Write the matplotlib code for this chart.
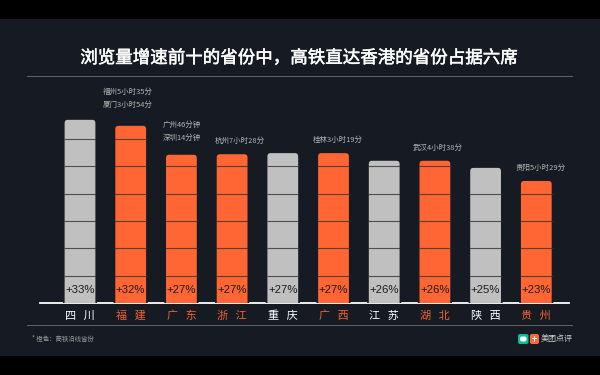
# -*- coding: utf-8 -*-
import matplotlib
matplotlib.use('Agg')
import matplotlib.pyplot as plt
import matplotlib.patheffects as pe
from matplotlib.patches import FancyBboxPatch, Rectangle

plt.rcParams['font.family'] = ['Noto Sans CJK SC', 'DejaVu Sans']

provinces = ['四川', '福建', '广东', '浙江', '重庆', '广西', '江苏', '湖北', '陕西', '贵州']
growth = [33, 32, 27, 27, 27, 27, 26, 26, 25, 23]
# heights as drawn in the picture, they are a bit off the printed percent
heights = [33.7, 32.6, 27.3, 27.4, 27.6, 27.6, 26.2, 26.2, 24.9, 22.5]
hsr = [0, 1, 1, 1, 0, 1, 0, 1, 0, 1]
notes = ['', '福州5小时35分\n厦门3小时54分', '广州46分钟\n深圳14分钟', '杭州7小时28分', '',
         '桂林3小时19分', '', '武汉4小时38分', '', '贵阳5小时29分']
note_dx = [0, -3, 0, 8, 0, 4, 0, 3, 0, 4]
note_dy = [0, 16, 12, 8, 0, 8, 0, 8, 0, 8]

BG = '#151a23'
ORANGE = '#ff6633'
GREY = '#c0c0c0'
W, H = 600, 375

fig = plt.figure(figsize=(6, 3.75), dpi=100, facecolor='black')

def rect(x0, y0, x1, y1, color):
    fig.patches.append(Rectangle((x0/W, 1-y1/H), (x1-x0)/W, (y1-y0)/H, transform=fig.transFigure,
                                 facecolor=color, edgecolor='none', zorder=-1))

def rrect(x0, y0, x1, y1, color, r=2):
    fig.patches.append(FancyBboxPatch((x0/W, 1-y1/H), (x1-x0)/W, (y1-y0)/H, transform=fig.transFigure,
                                      boxstyle='round,pad=0,rounding_size=%f' % (r/W), mutation_aspect=W/H,
                                      facecolor=color, edgecolor='none', zorder=-1))

rect(0, 18.5, 600, 356, BG)
rect(27, 76, 573, 77, '#5f6166')
rect(27, 325, 573, 326, '#5f6166')

ax = fig.add_axes([40/W, 1-303/H, 529/W, 223/H])
ax.patch.set_alpha(0)
ax.set_xlim(-0.789, 9.645)
ax.set_ylim(0, 40.84)
for s in ['top', 'left', 'right']:
    ax.spines[s].set_visible(False)
ax.spines['bottom'].set_color('white')
ax.spines['bottom'].set_linewidth(1.3)
ax.spines['bottom'].set_zorder(1)
ax.set_yticks([])
ax.set_xticks([])

bw = 0.64
for i, h in enumerate(heights):
    c = ORANGE if hsr[i] else GREY
    p = FancyBboxPatch((i-bw/2, -3), bw, h+3, boxstyle='round,pad=0,rounding_size=0.08',
                       mutation_aspect=9.3, facecolor=c, edgecolor=BG, linewidth=1.2, zorder=3)
    ax.add_patch(p)
    lev = 5
    while lev < h:
        ax.hlines(lev, i-bw/2, i+bw/2, color='#333333', linewidth=0.8, alpha=0.8, zorder=4)
        lev += 5
    ax.text(i, 2.4, '+%d%%' % growth[i], ha='center', va='center', color='#1c1c1c',
            fontsize=8.2, family='Liberation Sans', zorder=5)
    ax.annotate(provinces[i][0] + '   ' + provinces[i][1], (i, 0), xytext=(0, -12.5), textcoords='offset pixels',
                ha='center', va='center', color='#f0622e' if hsr[i] else 'white',
                fontsize=8, fontweight='medium', annotation_clip=False)
    if notes[i]:
        ax.annotate(notes[i], (i, h), xytext=(note_dx[i], note_dy[i]), textcoords='offset pixels',
                    ha='center', va='bottom', color='#b4b4b4', fontsize=5.4, linespacing=1.9,
                    annotation_clip=False)

fig.text(299/W, 1-58/H, '浏览量增速前十的省份中，高铁直达香港的省份占据六席', ha='center', va='center',
         color='white', fontsize=12.6, fontweight='regular',
         path_effects=[pe.withStroke(linewidth=0.35, foreground='white')])
fig.text(32/W, 1-339/H, '* 橙色：高铁沿线省份', ha='left', va='center', color='#9a9a9a', fontsize=4.6)
fig.text(573/W, 1-339/H, '美团点评', ha='right', va='center', color='#d0d0d0', fontsize=5.8)
rrect(518, 334, 528.5, 344, '#12b89a')
rrect(520, 336.5, 526.5, 341.5, 'white', r=2)
rect(521.5, 338.6, 525, 339.4, '#12b89a')
rrect(530, 334, 539, 344, '#ff6633')
rect(532, 338, 537, 339, 'white')
rect(534, 336, 535, 342, 'white')

fig.savefig('out.png', dpi=100, facecolor='black')
